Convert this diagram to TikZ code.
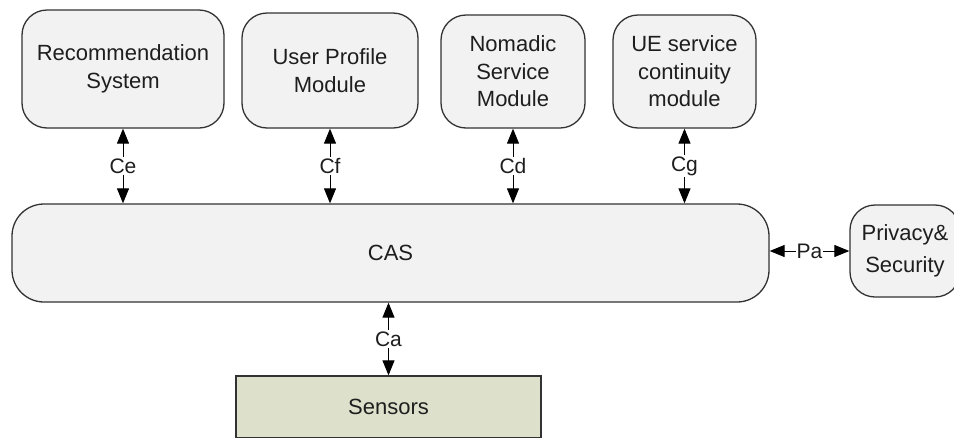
\documentclass[tikz,border=0pt]{standalone}
\usepackage{fontspec}
\setmainfont{Liberation Sans}
\usetikzlibrary{arrows.meta}
\definecolor{boxfill}{RGB}{242,242,242}
\definecolor{sensfill}{RGB}{221,225,203}
\definecolor{edge}{RGB}{50,50,50}
\definecolor{ink}{RGB}{30,30,30}
\tikzset{
  module/.style={draw=edge, line width=1.3pt, fill=boxfill, rounded corners=25pt,
    align=center, text=ink, inner sep=0pt,
    font=\fontsize{22}{27.5}\selectfont},
  link/.style={{Triangle[length=15pt,width=12pt]}-{Triangle[length=15pt,width=12pt]},
    line width=1pt, black},
  tag/.style={fill=white, inner sep=1.5pt, text=ink, font=\fontsize{21}{24}\selectfont}
}
\begin{document}
\begin{tikzpicture}[x=1pt, y=-1pt]
  \useasboundingbox (0,0) rectangle (954,437);
  \clip (0,0) rectangle (954,437);

  % service modules on top
  \node[module, minimum width=202pt, minimum height=118pt] (rec) at (123,69)
    {Recommendation\\System};
  \node[module, minimum width=176pt, minimum height=115pt] (upm) at (330,70.5)
    {User Profile\\Module};
  \node[module, minimum width=144pt, minimum height=113pt] (nsm) at (513,71.5)
    {Nomadic\\Service\\Module};
  \node[module, minimum width=143pt, minimum height=113pt] (ue) at (684.5,71.5)
    {UE service\\continuity\\module};

  % central context-aware system
  \node[module, rounded corners=32pt, minimum width=757pt, minimum height=98pt] (cas)
    at (390.5,253) {CAS};

  % privacy block on the right
  \node[module, font=\fontsize{22}{32}\selectfont, minimum width=110pt, minimum height=92pt]
    (priv) at (905,251) {Privacy\&\\Security};

  % sensor layer
  \node[draw=edge, line width=1.3pt, fill=sensfill, text=ink, minimum width=305pt,
    minimum height=62pt, font=\fontsize{22}{27}\selectfont] (sens) at (388.5,407) {Sensors};

  % interfaces
  \draw[link] (rec.south) -- node[tag] {Ce} (rec.south |- cas.north);
  \draw[link] (upm.south) -- node[tag] {Cf} (upm.south |- cas.north);
  \draw[link] (nsm.south) -- node[tag] {Cd} (nsm.south |- cas.north);
  \draw[link] (ue.south) -- node[tag] {Cg} (ue.south |- cas.north);
  \draw[link] (cas.south -| sens.north) -- node[tag] {Ca} (sens.north);
  \draw[link] (priv.west -| cas.east) -- node[tag, inner sep=0.5pt] {Pa} (priv.west);
\end{tikzpicture}
\end{document}
